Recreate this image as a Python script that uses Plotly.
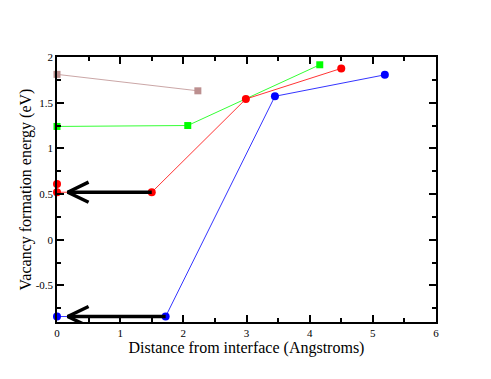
import plotly.graph_objects as go

# data
brown_x = [0, 2.23]
brown_y = [1.81, 1.63]
green_x = [0, 2.07, 4.16]
green_y = [1.24, 1.25, 1.915]
red_x = [0, 0, 1.5, 2.99, 4.5]
red_y = [0.61, 0.52, 0.52, 1.54, 1.875]
blue_x = [0, 1.72, 3.45, 5.19]
blue_y = [-0.84, -0.84, 1.57, 1.805]

# arrows: (start x, tip x, y)
arrows = [(1.5, 0.17, 0.52), (1.72, 0.17, -0.84)]
head_dx = 0.33
head_dy = 0.11

xticks = [0, 1, 2, 3, 4, 5, 6]
yticks = [-0.5, 0, 0.5, 1, 1.5, 2]
yticklabels = ["-0.5", "0", "0.5", "1", "1.5", "2"]

SERIF = "Times New Roman, Liberation Serif, serif"

fig = go.Figure()
series = [
    (brown_x, brown_y, "#bc8f8f", "square", 7),
    (green_x, green_y, "#00ff00", "square", 7),
    (red_x, red_y, "#ff0000", "circle", 8),
    (blue_x, blue_y, "#0000ff", "circle", 8),
]
for xs, ys, col, sym, sz in series:
    fig.add_trace(go.Scatter(
        x=xs, y=ys, mode="lines+markers",
        line=dict(color=col, width=0.8),
        marker=dict(color=col, symbol=sym, size=sz),
        showlegend=False, cliponaxis=False,
    ))

for x0, x1, y in arrows:
    fig.add_trace(go.Scatter(
        x=[x0, x1, None, x1 + head_dx, x1, x1 + head_dx],
        y=[y, y, None, y + head_dy, y, y - head_dy],
        mode="lines", line=dict(color="black", width=3.5),
        showlegend=False, cliponaxis=False,
    ))

axis_common = dict(
    showline=True, linecolor="black", linewidth=1.5, mirror="ticks",
    ticks="inside", ticklen=7, tickwidth=1.5, tickcolor="black",
    showgrid=False, zeroline=False,
    tickfont=dict(family=SERIF, size=11, color="black"),
    title_font=dict(family=SERIF, size=16, color="black"),
)
fig.update_xaxes(
    range=[0, 6], tickvals=xticks, title_text="Distance from interface (Angstroms)",
    title_standoff=0,
    minor=dict(ticks="inside", dtick=0.5, ticklen=4, tickcolor="black", showgrid=False),
    **axis_common,
)
fig.update_yaxes(
    range=[-0.9, 2], tickvals=yticks, ticktext=yticklabels,
    title_text="Vacancy formation energy (eV)", title_standoff=0,
    minor=dict(ticks="inside", dtick=0.25, ticklen=4, tickcolor="black", showgrid=False),
    **axis_common,
)
fig.update_layout(
    width=491, height=379,
    margin=dict(l=49, r=63, t=49, b=65),
    plot_bgcolor="white", paper_bgcolor="white",
    font=dict(family=SERIF, color="black"),
)
fig.write_html("out.html")
